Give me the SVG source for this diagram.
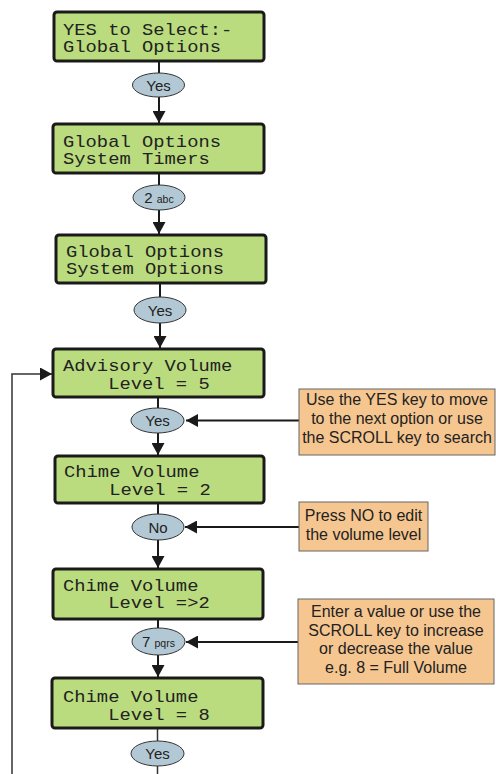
<svg xmlns="http://www.w3.org/2000/svg" width="496" height="774" viewBox="0 0 496 774">
<defs>
<style>
.lcd{fill:#badc7e;stroke:#1a1a1a;stroke-width:3}
.lt{font-family:"Liberation Mono","DejaVu Sans Mono",monospace;font-size:16.5px;fill:#222;white-space:pre}
.key{fill:#b3c8d5;stroke:#333;stroke-width:1}
.kt{font-family:"Liberation Sans",Arial,sans-serif;font-size:15px;fill:#222;text-anchor:middle}
.ks{font-size:10.5px}
.note{fill:#f6c690;stroke:#666;stroke-width:1}
.nt{font-family:"Liberation Sans",Arial,sans-serif;font-size:16px;fill:#222;text-anchor:middle}
.ln{stroke:#1a1a1a;stroke-width:2;fill:none}
.ln2{stroke:#333;stroke-width:1.5;fill:none}
</style>
<marker id="ah" markerUnits="userSpaceOnUse" markerWidth="13" markerHeight="13" refX="12" refY="6.5" orient="auto">
<path d="M0,0 L12,6.5 L0,13 z" fill="#1a1a1a"/>
</marker>
</defs>

<g id="connectors">
<line class="ln" x1="159" y1="61" x2="159" y2="73"/>
<line class="ln" x1="159" y1="97" x2="159" y2="123" marker-end="url(#ah)"/>
<line class="ln" x1="159" y1="173" x2="159" y2="185"/>
<line class="ln" x1="159" y1="210" x2="159" y2="234" marker-end="url(#ah)"/>
<line class="ln" x1="160" y1="283" x2="160" y2="297"/>
<line class="ln" x1="160" y1="323" x2="160" y2="348" marker-end="url(#ah)"/>
<line class="ln" x1="158" y1="397" x2="158" y2="408"/>
<line class="ln" x1="158" y1="433" x2="158" y2="455" marker-end="url(#ah)"/>
<line class="ln" x1="158" y1="503" x2="158" y2="514"/>
<line class="ln" x1="158" y1="540" x2="158" y2="568" marker-end="url(#ah)"/>
<line class="ln" x1="158" y1="619" x2="158" y2="628"/>
<line class="ln" x1="158" y1="655" x2="158" y2="677" marker-end="url(#ah)"/>
<line class="ln2" x1="157.5" y1="728" x2="157.5" y2="741"/>
<line class="ln2" x1="157.5" y1="766" x2="157.5" y2="774"/>
<line class="ln" x1="299" y1="420.5" x2="186" y2="420.5" marker-end="url(#ah)"/>
<line class="ln" x1="299" y1="527" x2="185" y2="527" marker-end="url(#ah)"/>
<line class="ln" x1="299" y1="642" x2="186" y2="642" marker-end="url(#ah)"/>
<polyline class="ln2" points="12,774 12,374 52,374" marker-end="url(#ah)"/>
</g>

<g id="lcd1"><rect class="lcd" x="54" y="12" width="210" height="49" rx="3"/>
<text class="lt" transform="translate(63,35) scale(1.14,1)">YES to Select:-</text><text class="lt" transform="translate(63,52) scale(1.14,1)">Global Options</text></g>
<g id="key1"><ellipse class="key" cx="158.5" cy="85" rx="26" ry="12"/><text class="kt" x="158.5" y="90.5">Yes</text></g>

<g id="lcd2"><rect class="lcd" x="53" y="124" width="211" height="49" rx="3"/>
<text class="lt" transform="translate(63,147) scale(1.14,1)">Global Options</text><text class="lt" transform="translate(63,164) scale(1.14,1)">System Timers</text></g>
<g id="key2"><ellipse class="key" cx="159" cy="197.5" rx="26" ry="12.5"/><text class="kt" x="159" y="203">2 <tspan class="ks">abc</tspan></text></g>

<g id="lcd3"><rect class="lcd" x="56" y="235" width="210" height="48" rx="3"/>
<text class="lt" transform="translate(66,257) scale(1.14,1)">Global Options</text><text class="lt" transform="translate(66,274) scale(1.14,1)">System Options</text></g>
<g id="key3"><ellipse class="key" cx="160" cy="310" rx="26" ry="13"/><text class="kt" x="160" y="315.5">Yes</text></g>

<g id="lcd4"><rect class="lcd" x="53" y="349" width="211" height="48" rx="3"/>
<text class="lt" transform="translate(63,371) scale(1.14,1)">Advisory Volume</text><text class="lt" transform="translate(63,389) scale(1.14,1)">    Level = 5</text></g>
<g id="key4"><ellipse class="key" cx="157.5" cy="420.5" rx="26.5" ry="12.5"/><text class="kt" x="157.5" y="426">Yes</text></g>

<g id="lcd5"><rect class="lcd" x="55" y="456" width="209" height="47" rx="3"/>
<text class="lt" transform="translate(64,477) scale(1.14,1)">Chime Volume</text><text class="lt" transform="translate(64,495) scale(1.14,1)">    Level = 2</text></g>
<g id="key5"><ellipse class="key" cx="158" cy="527" rx="26" ry="13"/><text class="kt" x="158" y="532.5">No</text></g>

<g id="lcd6"><rect class="lcd" x="53" y="569" width="210" height="50" rx="3"/>
<text class="lt" transform="translate(63,591) scale(1.14,1)">Chime Volume</text><text class="lt" transform="translate(63,608) scale(1.14,1)">    Level =&gt;2</text></g>
<g id="key6"><ellipse class="key" cx="158.5" cy="641.5" rx="26.5" ry="13.5"/><text class="kt" x="158.5" y="647">7 <tspan class="ks">pqrs</tspan></text></g>

<g id="lcd7"><rect class="lcd" x="52" y="678" width="211" height="50" rx="3"/>
<text class="lt" transform="translate(63,702) scale(1.14,1)">Chime Volume</text><text class="lt" transform="translate(63,720) scale(1.14,1)">    Level = 8</text></g>
<g id="key7"><ellipse class="key" cx="157.5" cy="753.5" rx="26.5" ry="12.5"/><text class="kt" x="157.5" y="759">Yes</text></g>

<g id="note1"><rect class="note" x="299" y="389" width="196" height="66"/>
<text class="nt" x="397" y="405">Use the YES key to move</text>
<text class="nt" x="397" y="424">to the next option or use</text>
<text class="nt" x="397" y="443">the SCROLL key to search</text></g>

<g id="note2"><rect class="note" x="299" y="502" width="129" height="49"/>
<text class="nt" x="363.5" y="521">Press NO to edit</text>
<text class="nt" x="363.5" y="540">the volume level</text></g>

<g id="note3"><rect class="note" x="298" y="599" width="196" height="85"/>
<text class="nt" x="396" y="617">Enter a value or use the</text>
<text class="nt" x="396" y="636">SCROLL key to increase</text>
<text class="nt" x="396" y="654">or decrease the value</text>
<text class="nt" x="396" y="673">e.g. 8 = Full Volume</text></g>
</svg>
